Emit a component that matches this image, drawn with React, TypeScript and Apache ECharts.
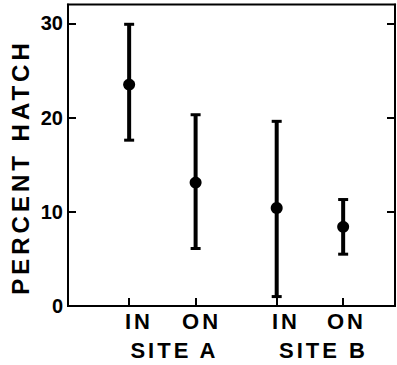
import React, { useEffect, useRef } from "react";
import * as echarts from "echarts";

// ---- data ----
const categories = ["IN", "ON", "IN", "ON"];
const sites = ["SITE A", "SITE B"];
const xPositions = [1, 2, 3.22, 4.22];
const means = [23.5, 13.1, 10.4, 8.4];
const upper = [29.9, 20.3, 19.6, 11.3];
const lower = [17.6, 6.1, 1.0, 5.5];
const yTicks = [0, 10, 20, 30];
const catLabelPos = [1.148, 2.089, 3.36, 4.27];
const siteLabelPos = [1.682, 3.924];
const yName = "PERCENT HATCH";

const SPACED_FONT = "Liberation Sans, Helvetica";
const WIDE_FONT = "Liberation Sans, Nimbus Sans";
const PLAIN_FONT = "Liberation Sans";

function pick(vals: number[], labels: string[], v: number) {
  let best = 0;
  for (let i = 1; i < vals.length; i++) {
    if (Math.abs(vals[i] - v) < Math.abs(vals[best] - v)) best = i;
  }
  return labels[best];
}

export default function App() {
  const ref = useRef<HTMLDivElement>(null);
  useEffect(() => {
    document.body.style.margin = "0";
    const chart = echarts.init(ref.current!, null, { renderer: "svg" });
    const xMin = 0.08;
    const xMax = 5.0;
    const data = xPositions.map((x, i) => [x, lower[i], upper[i], means[i]]);
    chart.setOption({
      animation: false,
      backgroundColor: "#fff",
      grid: {
        left: 68,
        top: 4.5,
        width: 327,
        height: 301.5,
        show: true,
        borderColor: "#000",
        borderWidth: 2,
        backgroundColor: "transparent",
      },
      xAxis: [
        {
          type: "value",
          min: xMin,
          max: xMax,
          position: "bottom",
          splitLine: { show: false },
          axisLine: { show: true, lineStyle: { color: "#000", width: 2 } },
          axisTick: {
            show: true,
            inside: true,
            length: 8,
            customValues: xPositions,
            lineStyle: { color: "#000", width: 2 },
          },
          axisLabel: {
            show: true,
            customValues: catLabelPos,
            formatter: (v: number) => pick(catLabelPos, categories, v),
            margin: 4,
            color: "#000",
            fontSize: 22,
            fontWeight: "bold",
            fontFamily: SPACED_FONT,
            hideOverlap: false,
          },
        },
        {
          type: "value",
          min: xMin,
          max: xMax,
          position: "bottom",
          splitLine: { show: false },
          axisLine: { show: false },
          axisTick: { show: false },
          axisLabel: {
            show: true,
            customValues: siteLabelPos,
            formatter: (v: number) => pick(siteLabelPos, sites, v),
            margin: 33,
            color: "#000",
            fontSize: 22,
            fontWeight: "bold",
            fontFamily: SPACED_FONT,
            hideOverlap: false,
          },
        },
      ],
      yAxis: [
        {
          type: "value",
          min: 0,
          max: 32,
          position: "left",
          splitLine: { show: false },
          axisLine: { show: true, lineStyle: { color: "#000", width: 2 } },
          axisTick: {
            show: true,
            inside: true,
            length: 8,
            customValues: yTicks,
            lineStyle: { color: "#000", width: 2 },
          },
          axisLabel: {
            show: true,
            customValues: yTicks,
            margin: 5,
            color: "#000",
            fontSize: 20,
            fontWeight: "bold",
            fontFamily: PLAIN_FONT,
          },
        },
        {
          type: "value",
          min: 0,
          max: 32,
          position: "right",
          splitLine: { show: false },
          axisLine: { show: true, lineStyle: { color: "#000", width: 2 } },
          axisTick: {
            show: true,
            inside: true,
            length: 8,
            customValues: yTicks,
            lineStyle: { color: "#000", width: 2 },
          },
          axisLabel: { show: false },
        },
      ],
      graphic: [
        {
          type: "text",
          x: 20.5,
          y: 167,
          rotation: Math.PI / 2,
          style: {
            text: yName,
            fill: "#000",
            fontSize: 24,
            fontWeight: "bold",
            fontFamily: WIDE_FONT,
            textAlign: "center",
            textVerticalAlign: "middle",
            align: "center",
            verticalAlign: "middle",
          },
        },
      ],
      series: [
        {
          type: "custom",
          xAxisIndex: 0,
          yAxisIndex: 0,
          data,
          encode: { x: 0, y: [1, 2, 3] },
          renderItem: (params: any, api: any) => {
            const x = api.value(0);
            const lo = api.coord([x, api.value(1)]);
            const hi = api.coord([x, api.value(2)]);
            const m = api.coord([x, api.value(3)]);
            const capW = 5;
            const st = { stroke: "#000", lineWidth: 3 };
            return {
              type: "group",
              children: [
                {
                  type: "line",
                  shape: { x1: hi[0], y1: hi[1], x2: lo[0], y2: lo[1] },
                  style: { stroke: "#000", lineWidth: 4 },
                },
                {
                  type: "line",
                  shape: { x1: hi[0] - capW, y1: hi[1], x2: hi[0] + capW, y2: hi[1] },
                  style: st,
                },
                {
                  type: "line",
                  shape: { x1: lo[0] - capW, y1: lo[1], x2: lo[0] + capW, y2: lo[1] },
                  style: st,
                },
                {
                  type: "circle",
                  shape: { cx: m[0], cy: m[1], r: 6 },
                  style: { fill: "#000" },
                },
              ],
            };
          },
        },
      ],
    });
    return () => chart.dispose();
  }, []);
  return (
    <>
      <style>{`text[style*="Helvetica"], text[font-family*="Helvetica"] { letter-spacing: 3px; } text[style*="Nimbus"], text[font-family*="Nimbus"] { letter-spacing: 4px; }`}</style>
      <div ref={ref} style={{ width: 397, height: 365 }} />
    </>
  );
}
